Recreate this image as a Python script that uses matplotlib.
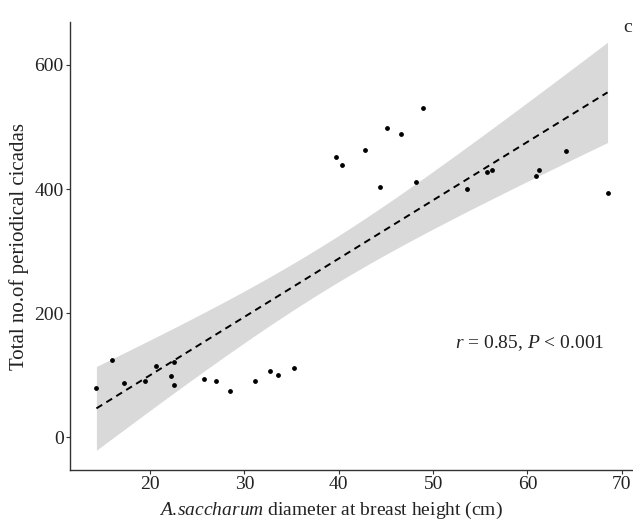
import numpy as np
import matplotlib.pyplot as plt

plt.rcParams['font.family'] = ['Liberation Serif', 'DejaVu Serif']
plt.rcParams['mathtext.fontset'] = 'custom'
plt.rcParams['mathtext.it'] = 'Liberation Serif:italic'
plt.rcParams['mathtext.rm'] = 'Liberation Serif'

# diameter at breast height (cm) and total periodical cicadas
dbh = [14.3, 15.9, 17.2, 19.4, 20.6, 22.2, 22.5, 22.5, 25.7, 27.0,
       28.5, 31.1, 32.7, 33.6, 35.2, 39.7, 40.3, 42.8, 44.4, 45.1,
       46.6, 48.2, 48.9, 53.6, 55.7, 56.2, 60.9, 61.2, 64.1, 68.5]
cicadas = [80, 125, 88, 90, 114, 98, 122, 84, 94, 91,
           74, 91, 107, 100, 111, 452, 438, 463, 403, 498,
           489, 411, 530, 400, 428, 430, 421, 431, 462, 393]

x = np.array(dbh)
y = np.array(cicadas)
n = len(x)
slope, icpt = np.polyfit(x, y, 1)
xs = np.linspace(x.min(), x.max(), 200)
fit = icpt + slope * xs
resid = y - (icpt + slope * x)
s = np.sqrt(np.sum(resid ** 2) / (n - 2))
se = s * np.sqrt(1 / n + (xs - x.mean()) ** 2 / np.sum((x - x.mean()) ** 2))
tval = 2.048  # t(0.975, 28)
lo, hi = fit - tval * se, fit + tval * se

fig = plt.figure(figsize=(6.33, 5.27), dpi=100)
ax = fig.add_axes([0.1106, 0.108, 0.8894, 0.85])

ax.fill_between(xs, lo, hi, color='#d9d9d9', lw=0)
ax.plot(xs, fit, color='black', ls=(0, (3.5, 2.5)), lw=1.4)
ax.scatter(x, y, s=6, color='black', zorder=3)

ax.set_xlim(11.5, 71.2)
ax.set_ylim(-53, 669)
ax.set_xticks([20, 30, 40, 50, 60, 70])
ax.set_yticks([0, 200, 400, 600])

for side in ['top', 'right']:
    ax.spines[side].set_visible(False)
for side in ['left', 'bottom']:
    ax.spines[side].set_color('#333333')
    ax.spines[side].set_linewidth(1.0)
ax.tick_params(length=3, width=0.8, color='#333333', labelsize=14,
               labelcolor='#222222', pad=1.5)

ax.set_xlabel(r'$\mathit{A.\!saccharum}$ diameter at breast height (cm)',
              fontsize=14, color='#222222')
ax.xaxis.set_label_coords(0.464, -0.066)
ax.set_ylabel('Total no.of periodical cicadas', fontsize=15,
              color='#222222', labelpad=4)

ax.text(60.3, 152, r'$r$ = 0.85, $P$ < 0.001', fontsize=14,
        color='#222222', ha='center', va='center')
fig.text(0.998, 0.947, 'c', fontsize=14, color='#222222', ha='right', va='center')

fig.savefig('out.png', dpi=100)
